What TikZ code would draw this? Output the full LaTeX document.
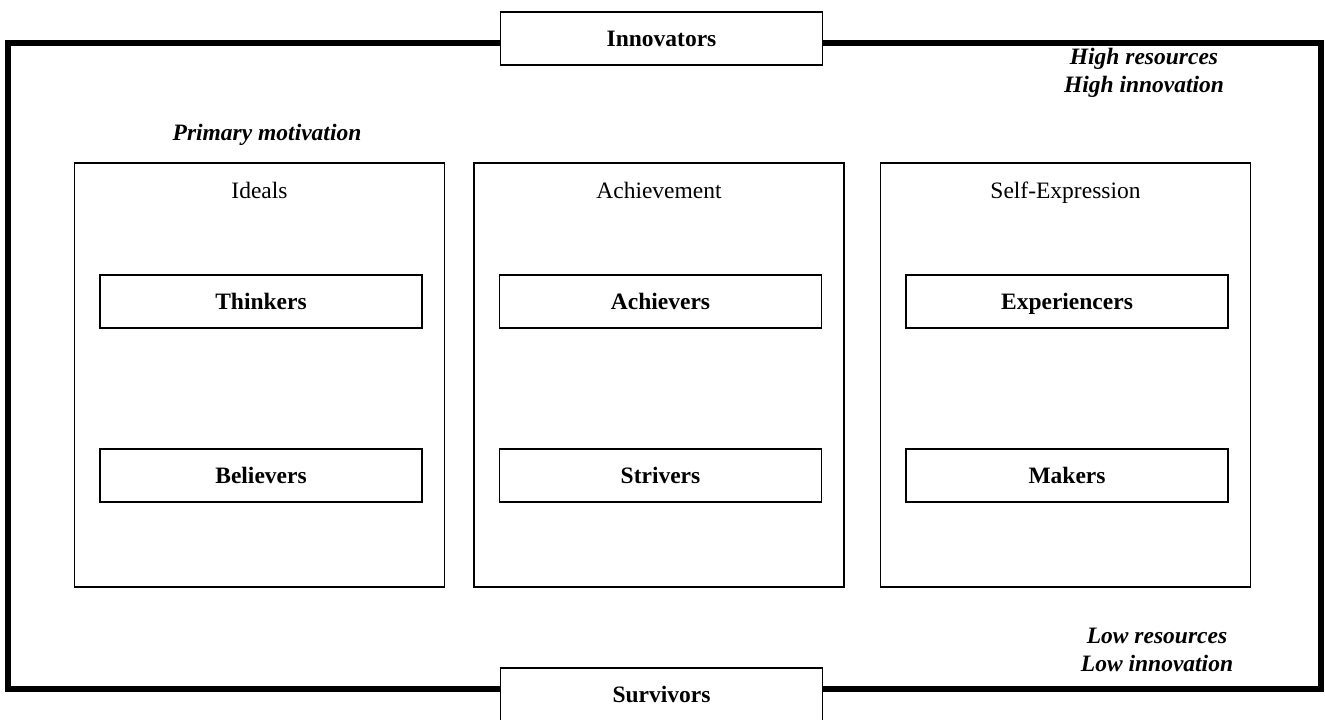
\documentclass[tikz,border=0pt]{standalone}
\usepackage{fontspec}
\setmainfont{Liberation Serif}
\usetikzlibrary{positioning}
\newcommand{\diagsize}{\fontsize{23.5}{27.5}\selectfont}
\tikzset{
  segbox/.style={rectangle, draw=black, line width=1.5pt, fill=white,
                 minimum width=322pt, minimum height=53pt, inner sep=0pt,
                 text height=15.5pt, text depth=0pt, font=\diagsize\bfseries},
  colbox/.style={rectangle, draw=black, line width=1.5pt,
                 minimum width=370pt, minimum height=424pt, inner sep=0pt},
  coltitle/.style={inner sep=0pt, anchor=base, font=\diagsize},
  axislabel/.style={align=center, inner sep=0pt, font=\diagsize\bfseries\itshape},
}

\begin{document}
\begin{tikzpicture}[x=1pt, y=-1pt]
\useasboundingbox (0,0) rectangle (1325,720);
\clip (0,0) rectangle (1325,720);

% -- outer frame ---------------------------------------------------------
\draw[line width=5.5pt, line join=miter] (8,43) rectangle (1321,689);

\node[segbox] (innov) at (661.5,38.5)  {Innovators};
\node[segbox] (surv)  at (661.5,694.5) {Survivors};

% -- corner labels ---------------------------------------------------------
\node[axislabel] (high) at (1144,73)  {High resources\\High innovation};
\node[axislabel] (low)  at (1157,650) {Low resources\\Low innovation};
\node[axislabel] (prim) at (267,135)  {Primary motivation};

% -- motivation columns ----------------------------------------------------
\foreach \name/\title/\x/\upper/\lower in {%
    ideals/Ideals/259.5/Thinkers/Believers,
    achv/Achievement/659/Achievers/Strivers,
    selfx/Self-Expression/1065.5/Experiencers/Makers} {
  \node[colbox] (\name) at (\x,375) {};
  \node[coltitle] (\name-t) at (\x,198) {\title};
  \node[segbox] (\name-u) at (\x+1.5,301.5) {\upper};
  \node[segbox] (\name-l) at (\x+1.5,475.5) {\lower};
}

\end{tikzpicture}
\end{document}
